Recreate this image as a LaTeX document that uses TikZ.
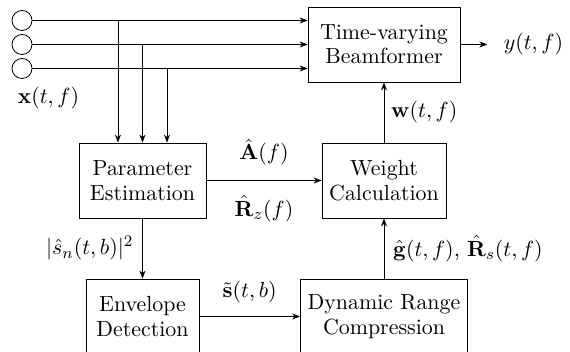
\documentclass[tikz,border=0pt]{standalone}
\usepackage{amsmath,amssymb}
\usepackage{tikz}
\usetikzlibrary{arrows.meta,positioning}
\newcommand{\blkfont}{\fontsize{10.95}{12.2}\selectfont}

\begin{document}
\begin{tikzpicture}[
  x=0.5pt,y=-0.5pt,
  blk/.style={rectangle,draw,align=center,minimum height=37.5pt,inner sep=2pt,font=\blkfont},
  mic/.style={circle,draw,minimum size=10pt,inner sep=0pt},
  lbl/.style={font=\blkfont},
  sig/.style={-{Stealth[length=4pt,width=3pt]}}]
\useasboundingbox (0,0) rectangle (570,352);
\node[blk,minimum width=76pt] (bf) at (384,44.5) {Time-varying\\Beamformer};
\node[blk,minimum width=63.5pt] (pe) at (142.5,180.5) {Parameter\\Estimation};
\node[blk,minimum width=62pt] (wc) at (384,180.5) {Weight\\Calculation};
\node[blk,minimum width=56.5pt] (ed) at (142.5,316.5) {Envelope\\Detection};
\node[blk,minimum width=83.5pt] (drc) at (384,316.5) {Dynamic Range\\Compression};
\node[mic] (m1) at (22,20.5) {};
\node[mic] (m2) at (22,44.5) {};
\node[mic] (m3) at (22,68.5) {};
\node[lbl] (xin) at (48.5,98) {$\mathbf{x}(t,f)$};
\node[lbl,right=13.5pt of bf.east,inner xsep=8pt] (yout) {$y(t,f)$};
\foreach \m in {m1,m2,m3} {
  \draw[sig] (\m.east) -- (\m -| bf.west);
}
\foreach \m/\dx in {m1/-12.25pt,m2/0pt,m3/12.25pt} {
  \draw[sig] ([xshift=\dx]pe.north |- \m) -- ([xshift=\dx]pe.north);
}
\draw[sig] (bf.east) -- (yout.west);
\draw[sig] (wc) -- node[lbl,right] {$\mathbf{w}(t,f)$} (bf);
\draw[sig] (pe) -- node[lbl,above=4pt] {$\hat{\mathbf{A}}(f)$} node[lbl,below=4pt] {$\hat{\mathbf{R}}_z(f)$} (wc);
\draw[sig] (pe) -- node[lbl,left=1pt] {$|\hat{s}_n(t,b)|^2$} (ed);
\draw[sig] (ed) -- node[lbl,above=3pt] {$\tilde{\mathbf{s}}(t,b)$} (drc);
\draw[sig] (drc) -- node[lbl,right=1pt] {$\hat{\mathbf{g}}(t,f)$, $\hat{\mathbf{R}}_s(t,f)$} (wc);
\end{tikzpicture}
\end{document}
